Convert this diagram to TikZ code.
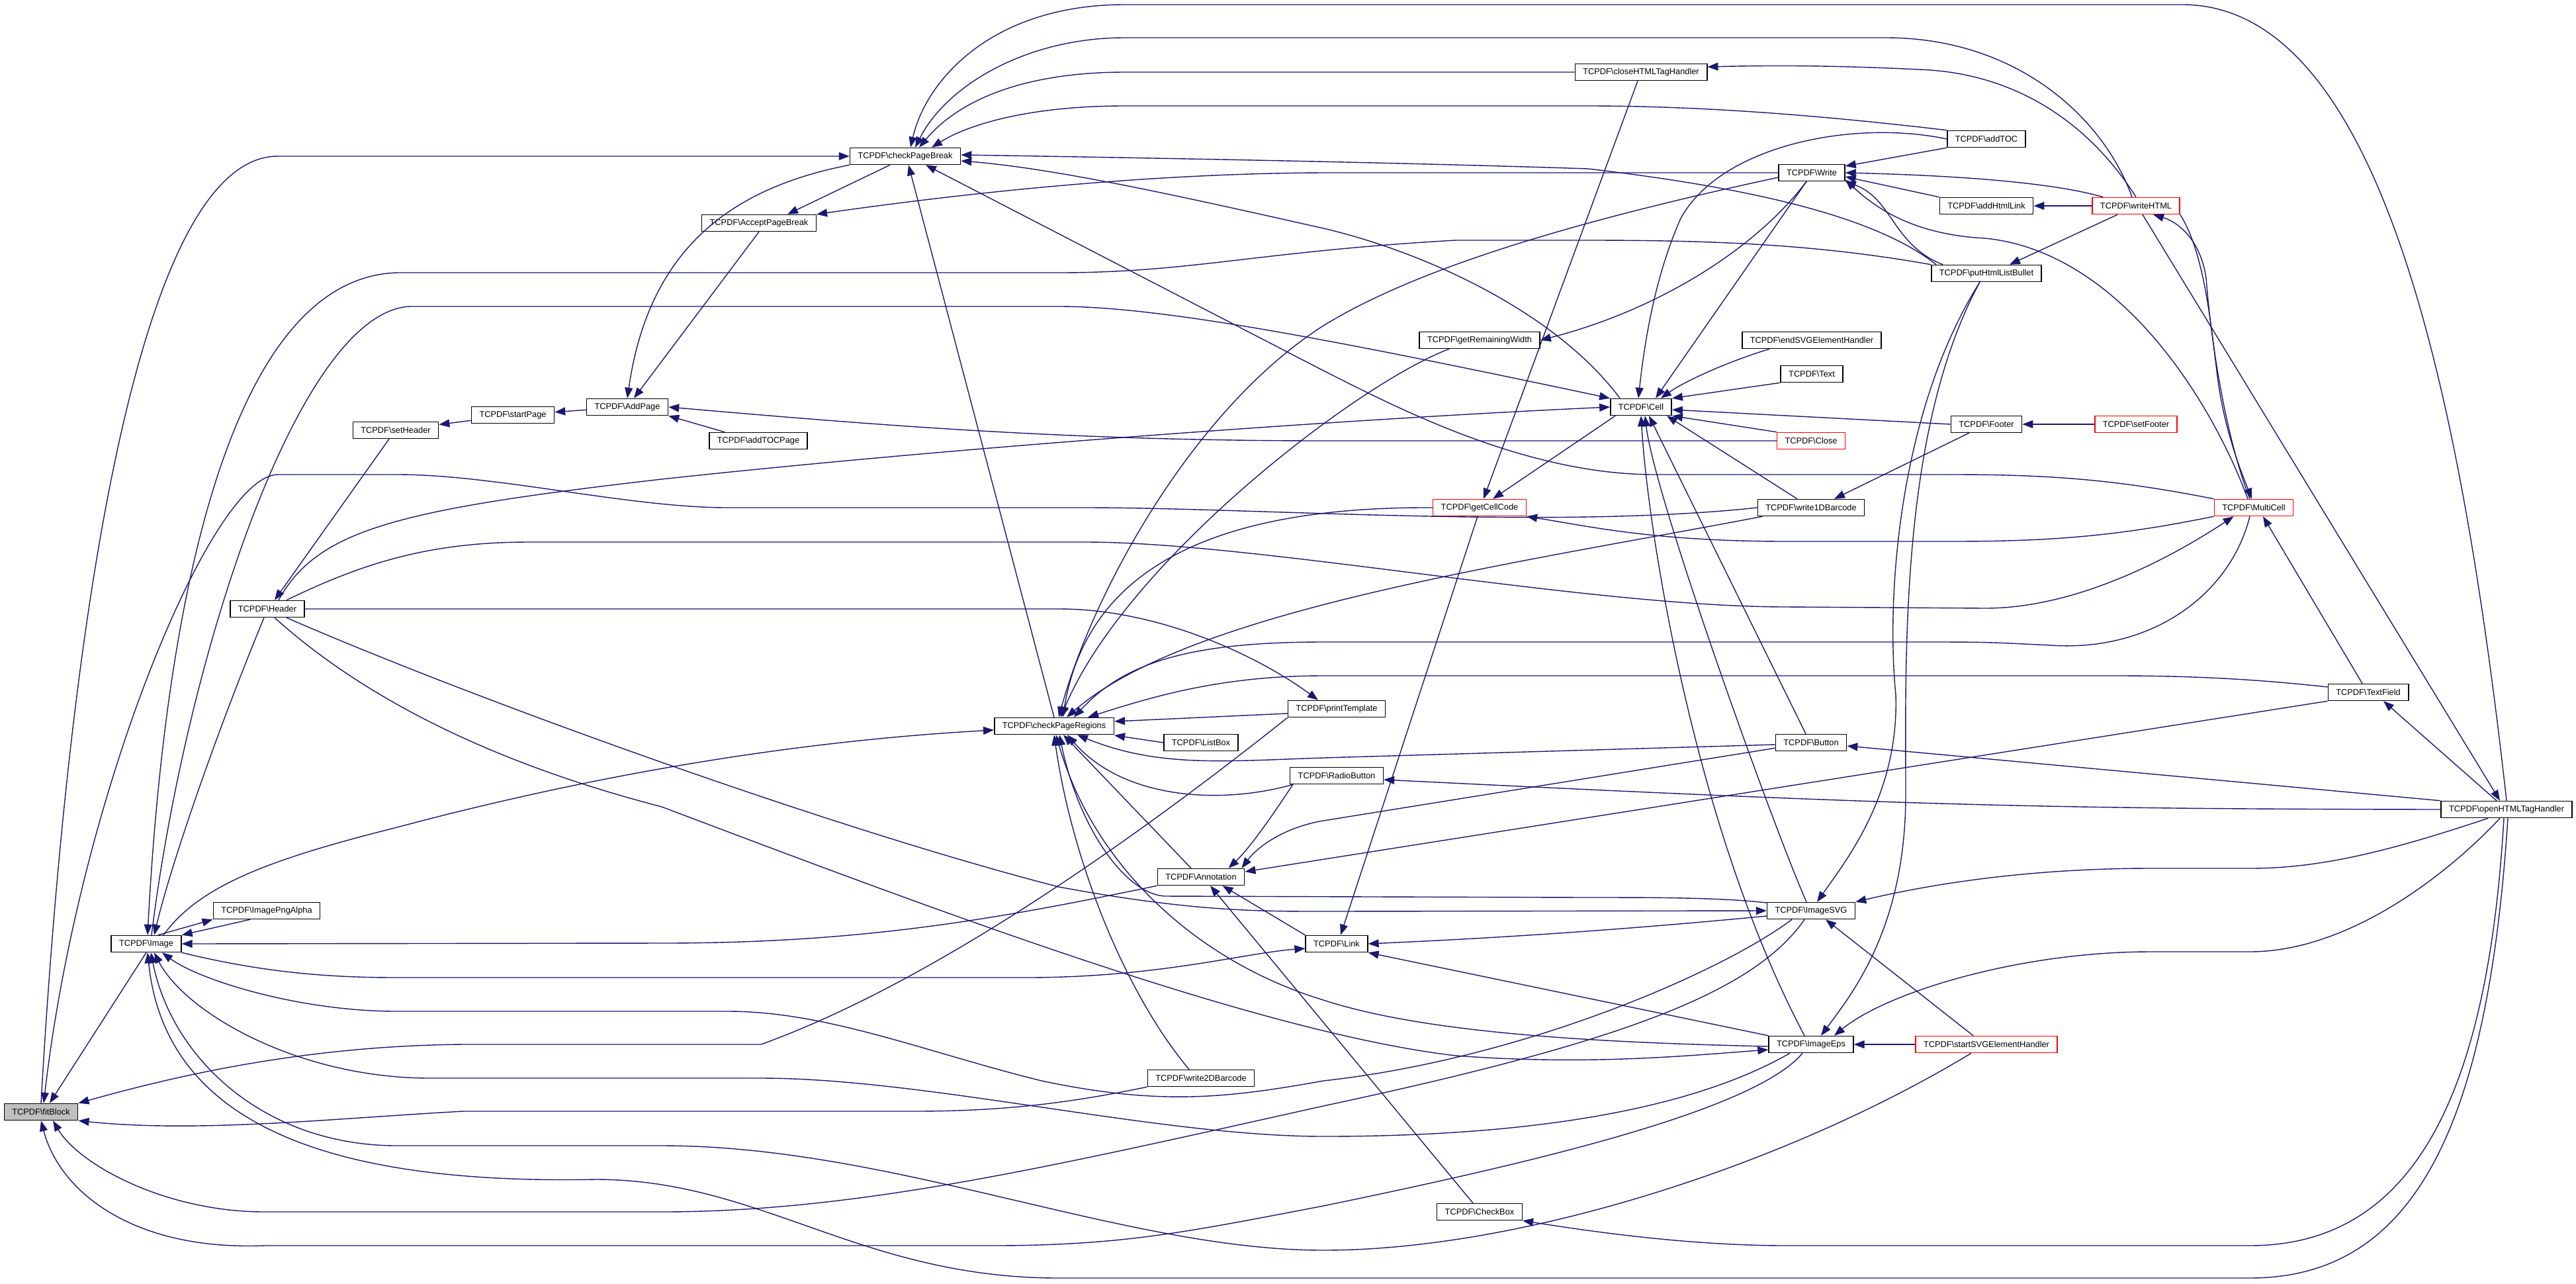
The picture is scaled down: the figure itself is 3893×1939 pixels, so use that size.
\documentclass[tikz,border=0pt]{standalone}
\usepackage{fontspec}
\setmainfont{Liberation Sans}
\usepackage{tikz}
\usetikzlibrary{arrows.meta, calc}
\definecolor{edgeblue}{HTML}{191970}
\definecolor{hotred}{HTML}{FF0000}
\definecolor{rootgray}{HTML}{BFBFBF}
\tikzset{
    fn/.style={draw=black, fill=white, line width=1.5pt, inner xsep=12pt, inner ysep=2pt,
        minimum height=25pt, font=\fontsize{12.8}{15}\selectfont},
    call/.style={edgeblue, line width=1.4pt, -{Triangle[length=16pt,width=12pt]}},
}
\begin{document}
\begin{tikzpicture}[x=1pt, y=-1pt]
    \useasboundingbox (0,0) rectangle (3893,1939);

    % function boxes
    \foreach \nm/\x/\y/\dc/\fc in {
        fitBlock/62/1680/black/rootgray,
        Image/221/1426/black/white,
        ImagePngAlpha/403/1376/black/white,
        Header/404/920/black/white,
        setHeader/598/650/black/white,
        startPage/775/627/black/white,
        AddPage/948/615/black/white,
        addTOCPage/1146/666/black/white,
        AcceptPageBreak/1147/337/black/white,
        checkPageBreak/1368/236/black/white,
        checkPageRegions/1593/1097/black/white,
        ListBox/1815/1122/black/white,
        printTemplate/2020/1071/black/white,
        RadioButton/2020/1172/black/white,
        Annotation/1815/1325/black/white,
        Link/2020/1426/black/white,
        write2DBarcode/1815/1629/black/white,
        CheckBox/2236/1831/black/white,
        getCellCode/2236/767/hotred/white,
        closeHTMLTagHandler/2480/109/black/white,
        getRemainingWidth/2236/514/black/white,
        Cell/2480/615/black/white,
        Write/2738/261/black/white,
        endSVGElementHandler/2738/514/black/white,
        Text/2738/565/black/white,
        Close/2737/666/hotred/white,
        write1DBarcode/2737/767/black/white,
        Button/2737/1122/black/white,
        ImageSVG/2737/1376/black/white,
        ImageEps/2737/1578/black/white,
        startSVGElementHandler/3002/1578/hotred/white,
        addTOC/3002/210/black/white,
        addHtmlLink/3002/311/black/white,
        putHtmlListBullet/3002/413/black/white,
        writeHTML/3228/311/hotred/white,
        Footer/3002/641/black/white,
        setFooter/3228/641/hotred/white,
        MultiCell/3406/767/hotred/white,
        TextField/3579/1046/black/white,
        openHTMLTagHandler/3788/1223/black/white}
    {
        \node[fn, draw=\dc, fill=\fc] (\nm) at (\x,\y) {TCPDF\textbackslash\nm};
    }

    % short calls
    \foreach \src/\dst in {
        startPage/setHeader, AddPage/startPage, setFooter/Footer,
        writeHTML/addHtmlLink, startSVGElementHandler/ImageEps}
    {
        \draw[call] (\src) -- (\dst);
    }

    % into fitBlock
    \draw[call] (Image.south) -- ($(fitBlock.north)+(13,0)$);
    \draw[call] (write1DBarcode.west) .. controls (2350,800) and (1900,767) .. (1640,767) -- (1100,767)
        .. controls (950,767) and (750,717) .. (600,717) -- (420,717) .. controls (320,717) and (120,1200) .. ($(fitBlock.north)+(4,0)$);
    \draw[call] (printTemplate.south west) .. controls (1800,1200) and (1450,1470) .. (1150,1578) -- (700,1578)
        .. controls (450,1580) and (250,1630) .. (fitBlock.north east);
    \draw[call] (write2DBarcode.south west) .. controls (1600,1670) and (1500,1679) .. (1380,1679) -- (700,1679)
        .. controls (500,1690) and (300,1712) .. (fitBlock.south east);
    \draw[call] ($(ImageSVG.south)+(-10,0)$) .. controls (2650,1500) and (2450,1575) .. (2000,1671)
        .. controls (1600,1760) and (1300,1831) .. (1000,1831) -- (400,1831) .. controls (250,1831) and (120,1760) .. ($(fitBlock.south)+(18,0)$);
    \draw[call] ($(ImageEps.south)+(-13,0)$) .. controls (2650,1680) and (2300,1760) .. (2000,1822)
        .. controls (1800,1860) and (1700,1882) .. (1500,1882) -- (400,1882) .. controls (200,1890) and (90,1800) .. (fitBlock.south);
    \draw[call] (fitBlock.north) .. controls (100,1000) and (200,236) .. (420,236) -- (checkPageBreak.west);

    % Image
    \draw[call] ($(Image.north)+(18,0)$) -- (ImagePngAlpha.south west);
    \draw[call] ($(ImagePngAlpha.south)+(-25,0)$) -- (Image.north east);
    \draw[call] (Image.south east) .. controls (400,1470) and (500,1477) .. (600,1477) -- (1550,1477)
        .. controls (1750,1477) and (1880,1440) .. ($(Link.west)+(0,7)$);
    \draw[call] ($(Image.north)+(26,0)$) .. controls (300,1340) and (400,1300) .. (600,1250)
        .. controls (900,1170) and (1200,1120) .. ($(checkPageRegions.west)+(0,6)$);
    \draw[call] (Annotation.south west) .. controls (1500,1390) and (1300,1425) .. (1000,1425) -- (Image.east);
    \draw[call] ($(ImageSVG.south)+(-29,0)$) .. controls (2600,1470) and (2300,1600) .. (2000,1633)
        .. controls (1850,1660) and (1750,1670) .. (1574,1633) .. controls (1400,1590) and (1250,1528) .. (1100,1528) -- (600,1528)
        .. controls (450,1528) and (300,1480) .. ($(Image.south)+(24,0)$);
    \draw[call] ($(ImageEps.south)+(-32,0)$) .. controls (2550,1680) and (2300,1717) .. (2000,1717)
        .. controls (1750,1717) and (1400,1629) .. (1150,1629) -- (650,1629) .. controls (450,1629) and (280,1530) .. ($(Image.south)+(12,0)$);
    \draw[call] ($(startSVGElementHandler.south)+(-23,0)$) .. controls (2700,1760) and (2300,1889) .. (2000,1889)
        .. controls (1700,1889) and (1350,1731) .. (1000,1731) -- (600,1731) .. controls (400,1731) and (260,1600) .. ($(Image.south)+(7,0)$);
    \draw[call] ($(openHTMLTagHandler.south)+(2,0)$) .. controls (3760,1700) and (3650,1931) .. (3400,1931) -- (1600,1931)
        .. controls (1300,1931) and (1150,1782) .. (900,1782) .. controls (500,1790) and (250,1700) .. ($(Image.south)+(2,0)$);
    \draw[call] (putHtmlListBullet.north west) .. controls (2750,370) and (2600,363) .. (2400,363) -- (2200,363)
        .. controls (1900,380) and (1800,412) .. (1600,412) -- (600,412) .. controls (350,420) and (250,900) .. ($(Image.north)+(2,0)$);
    \draw[call] ($(Header.south)+(-5,0)$) .. controls (330,1100) and (260,1300) .. ($(Image.north)+(12,0)$);
    \draw[call] ($(Image.north)+(8,0)$) .. controls (280,1000) and (450,470) .. (620,463) -- (1600,463)
        .. controls (1750,463) and (2000,510) .. (Cell.north west);

    % Header
    \draw[call] ($(setHeader.south)+(-10,0)$) -- ($(Header.north)+(11,0)$);
    \draw[call] ($(Header.north)+(17,0)$) .. controls (480,800) and (600,770) .. (1000,724)
        .. controls (1500,670) and (2100,630) .. (Cell.west);
    \draw[call] ($(Header.north)+(29,0)$) .. controls (550,850) and (650,819) .. (800,819) -- (1640,819)
        .. controls (1900,819) and (2400,917) .. (2700,917) -- (3000,919) .. controls (3150,919) and (3300,830) .. ($(MultiCell.south west)+(30,0)$);
    \draw[call] (Header.east) -- (1600,920) .. controls (1750,920) and (1900,990) .. ($(printTemplate.north)+(-28,0)$);
    \draw[call] ($(Header.south)+(29,0)$) .. controls (700,1050) and (1250,1250) .. (1600,1340)
        .. controls (1800,1377) and (1900,1377) .. (2000,1377) -- (ImageSVG.west);
    \draw[call] ($(Header.south)+(11,0)$) .. controls (600,1100) and (850,1180) .. (1000,1219)
        .. controls (1400,1370) and (1900,1560) .. (2200,1595) .. controls (2400,1610) and (2550,1595) .. ($(ImageEps.west)+(0,8)$);

    % pages
    \draw[call] (checkPageBreak.south west) .. controls (1100,285) and (980,380) .. (AddPage.north);
    \draw[call] ($(checkPageBreak.south)+(-23,0)$) -- ($(AcceptPageBreak.north)+(43,0)$);
    \draw[call] (AcceptPageBreak.south) -- ($(AddPage.north)+(10,0)$);
    \draw[call] ($(addTOCPage.north west)+(24,0)$) -- (AddPage.south east);
    \draw[call] (Close.west) -- (2000,666) .. controls (1600,666) and (1300,640) .. (AddPage.east);
    \draw[call] (Write.west) -- (2000,261) .. controls (1700,262) and (1400,300) .. (AcceptPageBreak.north east);

    % into checkPageBreak
    \draw[call] (openHTMLTagHandler.north) .. controls (3720,600) and (3600,10) .. (3300,7) -- (1700,7)
        .. controls (1500,7) and (1400,120) .. ($(checkPageBreak.north)+(8,0)$);
    \draw[call] ($(writeHTML.north)+(-6,0)$) .. controls (3180,180) and (3050,57) .. (2850,57) -- (1700,57)
        .. controls (1550,57) and (1430,130) .. ($(checkPageBreak.north)+(15,0)$);
    \draw[call] (closeHTMLTagHandler.west) -- (1700,109) .. controls (1550,109) and (1450,150) .. ($(checkPageBreak.north)+(21,0)$);
    \draw[call] (addTOC.north west) .. controls (2800,180) and (2600,160) .. (2400,160) -- (1700,160)
        .. controls (1550,160) and (1460,190) .. ($(checkPageBreak.north)+(40,0)$);
    \draw[call] ($(putHtmlListBullet.north west)+(8,0)$) .. controls (2850,340) and (2700,290) .. (2400,255)
        .. controls (2100,245) and (1700,238) .. ($(checkPageBreak.east)+(0,-2)$);
    \draw[call] ($(Cell.north west)+(15,0)$) .. controls (2350,470) and (2150,380) .. (2000,345)
        .. controls (1800,300) and (1600,255) .. ($(checkPageBreak.east)+(0,7)$);
    \draw[call] (MultiCell.north west) .. controls (3200,725) and (3100,717) .. (2950,717) -- (2500,717)
        .. controls (2300,717) and (2100,610) .. (2000,560) -- ($(checkPageBreak.south)+(31,0)$);
    \draw[call] (checkPageRegions.north) -- ($(checkPageBreak.south)+(5,0)$);

    % closeHTMLTagHandler, getCellCode
    \draw[call] (writeHTML.north) .. controls (3160,190) and (3050,110) .. (2900,105)
        .. controls (2800,100) and (2700,98) .. ($(closeHTMLTagHandler.east)+(0,-8)$);
    \draw[call] ($(closeHTMLTagHandler.south)+(-5,0)$) -- ($(getCellCode.north)+(6,0)$);
    \draw[call] ($(Cell.south west)+(8,0)$) -- ($(getCellCode.north)+(20,0)$);
    \draw[call] (getCellCode.west) .. controls (1800,765) and (1640,880) .. ($(checkPageRegions.north)+(13,0)$);
    \draw[call] (MultiCell.south west) .. controls (3200,810) and (3100,818) .. (2950,818) -- (2700,818)
        .. controls (2500,818) and (2400,795) .. (getCellCode.south east);
    \draw[call] ($(getCellCode.south)+(-3,0)$) -- ($(Link.north)+(6,0)$);

    % Write
    \draw[call] ($(Write.south)+(-8,0)$) .. controls (2650,380) and (2500,470) .. (getRemainingWidth.east);
    \draw[call] ($(Write.south)+(-8,0)$) -- ($(Cell.north)+(22,0)$);
    \draw[call] ($(Write.west)+(0,7)$) .. controls (2400,330) and (2150,400) .. (2000,492)
        .. controls (1800,620) and (1650,900) .. ($(checkPageRegions.north)+(7,0)$);
    \draw[call] ($(getRemainingWidth.south)+(-46,0)$) .. controls (2050,580) and (1700,850) .. ($(checkPageRegions.north)+(10,0)$);
    \draw[call] (addTOC.west) .. controls (2800,180) and (2600,220) .. (2540,330)
        .. controls (2500,420) and (2485,520) .. ($(Cell.north)+(-4,0)$);
    \draw[call] (addTOC.south west) -- ($(Write.east)+(0,-10)$);
    \draw[call] ($(writeHTML.north west)+(17,0)$) .. controls (3100,275) and (2950,265) .. (Write.east);
    \draw[call] (addHtmlLink.north west) -- ($(Write.east)+(0,6)$);
    \draw[call] ($(MultiCell.north)+(-9,0)$) .. controls (3340,600) and (3200,380) .. (3000,360)
        .. controls (2900,355) and (2840,320) .. ($(Write.south east)+(0,-3)$);
    \draw[call] ($(putHtmlListBullet.north west)+(18,0)$) .. controls (2860,370) and (2860,300) .. (Write.south east);

    % into Cell
    \draw[call] ($(endSVGElementHandler.south west)+(42,0)$) .. controls (2600,550) and (2540,580) .. ($(Cell.north east)+(-17,0)$);
    \draw[call] (Text.south west) -- (Cell.north east);
    \draw[call] (Footer.west) -- ($(Cell.east)+(0,4)$);
    \draw[call] (Close.north west) -- (Cell.south east);
    \draw[call] ($(Button.north)+(-8,0)$) -- ($(Cell.south)+(12,0)$);
    \draw[call] ($(ImageEps.north)+(-10,0)$) .. controls (2560,1250) and (2490,800) .. (Cell.south);
    \draw[call] ($(ImageSVG.north)+(-7,0)$) .. controls (2680,1250) and (2500,750) .. ($(Cell.south)+(6,0)$);
    \draw[call] ($(write1DBarcode.north)+(-21,0)$) -- ($(Cell.south east)+(-8,0)$);

    % putHtmlListBullet, Footer
    \draw[call] ($(putHtmlListBullet.south)+(-10,0)$) .. controls (2870,620) and (2850,900) .. (2865,1050)
        .. controls (2870,1200) and (2790,1300) .. ($(ImageSVG.north)+(9,0)$);
    \draw[call] ($(putHtmlListBullet.south)+(-10,0)$) .. controls (2870,650) and (2880,1000) .. (2880,1200)
        .. controls (2880,1400) and (2800,1500) .. ($(ImageEps.north)+(15,0)$);
    \draw[call] ($(Footer.south west)+(28,0)$) -- ($(write1DBarcode.north)+(35,0)$);

    % into checkPageRegions
    \draw[call] ($(write1DBarcode.south west)+(8,0)$) .. controls (2300,850) and (1800,920) .. ($(checkPageRegions.north)+(19,0)$);
    \draw[call] ($(MultiCell.south)+(-6,0)$) .. controls (3370,900) and (3250,985) .. (3100,975)
        .. controls (3000,970) .. (2900,970) -- (2000,970) .. controls (1800,970) and (1700,1000) .. ($(checkPageRegions.north)+(30,0)$);
    \draw[call] ($(TextField.west)+(0,-8)$) .. controls (3400,1025) and (3300,1021) .. (3200,1021) -- (2000,1021)
        .. controls (1850,1021) and (1750,1050) .. ($(checkPageRegions.north east)+(-40,0)$);
    \draw[call] ($(Button.west)+(0,3)$) -- (2000,1145) .. controls (1850,1150) and (1750,1160) .. ($(checkPageRegions.south)+(35,0)$);
    \draw[call] ($(RadioButton.south west)+(5,0)$) .. controls (1850,1215) and (1700,1210) .. ($(checkPageRegions.south)+(20,0)$);
    \draw[call] ($(Annotation.north)+(-15,0)$) -- ($(checkPageRegions.south)+(14,0)$);
    \draw[call] ($(ImageSVG.west)+(0,-12)$) .. controls (2600,1356) and (2500,1356) .. (2400,1356) -- (1760,1354)
        .. controls (1700,1350) and (1630,1250) .. ($(checkPageRegions.south)+(8,0)$);
    \draw[call] ($(ImageEps.west)+(0,3)$) .. controls (2400,1575) and (2150,1560) .. (2000,1511)
        .. controls (1800,1450) and (1650,1300) .. ($(checkPageRegions.south)+(3,0)$);
    \draw[call] ($(write2DBarcode.north)+(-18,0)$) .. controls (1700,1500) and (1620,1300) .. (checkPageRegions.south);
    \draw[call] (ListBox.west) -- ($(checkPageRegions.east)+(0,14)$);
    \draw[call] ($(printTemplate.west)+(0,7)$) -- ($(checkPageRegions.east)+(0,-7)$);

    % Annotation, Link
    \draw[call] (TextField.south west) -- ($(Annotation.east)+(0,-8)$);
    \draw[call] ($(Button.south west)+(0,-5)$) -- (2000,1240) .. controls (1940,1250) and (1900,1280) .. ($(Annotation.north east)+(-5,0)$);
    \draw[call] ($(RadioButton.south west)+(5,0)$) .. controls (1925,1229) and (1890,1280) .. ($(Annotation.north east)+(-25,0)$);
    \draw[call] (Link.north west) -- ($(Annotation.south east)+(-34,0)$);
    \draw[call] ($(CheckBox.north)+(-10,0)$) -- ($(Annotation.south)+(14,0)$);
    \draw[call] ($(ImageSVG.west)+(0,8)$) .. controls (2400,1410) and (2200,1420) .. (Link.east);
    \draw[call] (ImageEps.north west) -- (Link.south east);

    % writeHTML, MultiCell, openHTMLTagHandler
    \draw[call] ($(writeHTML.south)+(-28,0)$) -- ($(putHtmlListBullet.north)+(35,0)$);
    \draw[call] ($(writeHTML.south)+(10,0)$) -- ($(openHTMLTagHandler.north)+(-10,0)$);
    \draw[call] ($(MultiCell.north)+(-6,0)$) .. controls (3360,650) and (3340,500) .. (3334,420)
        .. controls (3325,360) and (3290,335) .. ($(writeHTML.south)+(26,0)$);
    \draw[call] (writeHTML.south east) .. controls (3330,380) and (3340,480) .. (3350,560)
        .. controls (3360,650) and (3390,720) .. ($(MultiCell.north)+(-3,0)$);
    \draw[call] ($(TextField.north)+(-9,0)$) -- ($(MultiCell.south)+(14,0)$);
    \draw[call] ($(openHTMLTagHandler.north)+(-15,0)$) -- ($(TextField.south)+(23,0)$);
    \draw[call] (openHTMLTagHandler.north west) -- ($(Button.east)+(0,5)$);
    \draw[call] (openHTMLTagHandler.west) .. controls (3100,1222) and (2900,1218) .. ($(RadioButton.east)+(0,6)$);
    \draw[call] ($(openHTMLTagHandler.south)+(-28,0)$) .. controls (3600,1290) and (3500,1312) .. (3400,1312) -- (3250,1312)
        .. controls (3050,1312) and (2900,1340) .. (ImageSVG.north east);
    \draw[call] ($(openHTMLTagHandler.south)+(-10,0)$) .. controls (3700,1320) and (3550,1438) .. (3400,1438) -- (3250,1438)
        .. controls (3050,1438) and (2850,1500) .. ($(ImageEps.north)+(35,0)$);
    \draw[call] ($(openHTMLTagHandler.south)+(-4,0)$) .. controls (3760,1650) and (3650,1882) .. (3400,1882) -- (2700,1882)
        .. controls (2550,1882) and (2400,1860) .. (CheckBox.south east);
    \draw[call] ($(startSVGElementHandler.north)+(-20,0)$) -- ($(ImageSVG.south)+(22,0)$);
\end{tikzpicture}
\end{document}
